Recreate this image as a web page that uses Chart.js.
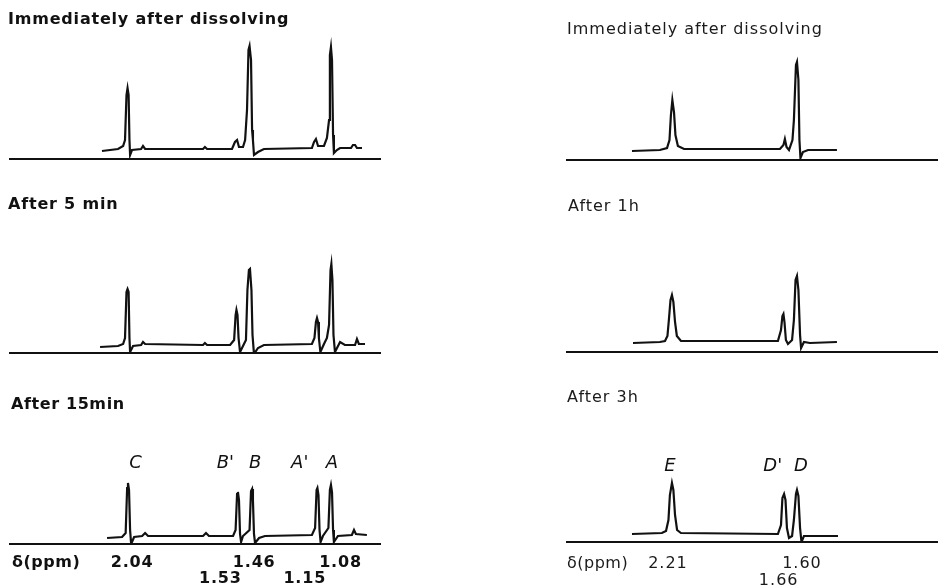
<!DOCTYPE html>
<html>
<head>
<meta charset="utf-8">
<script src="https://cdn.jsdelivr.net/npm/chart.js@4.4.1/dist/chart.umd.min.js"></script>
<style>
  html, body { margin: 0; padding: 0; background: #fff; }
  #wrap { position: relative; width: 938px; height: 587px; overflow: hidden; background: #fff; }
  #wrap canvas { position: absolute; left: 0; top: 0; }
</style>
</head>
<body>
<div id="wrap">
  <canvas id="p1" width="938" height="587"></canvas>
  <canvas id="p2" width="938" height="587"></canvas>
  <canvas id="p3" width="938" height="587"></canvas>
  <canvas id="p4" width="938" height="587"></canvas>
  <canvas id="p5" width="938" height="587"></canvas>
  <canvas id="p6" width="938" height="587"></canvas>
</div>
<script>
// titres des spectres
const titlesLeft = ["Immediately after dissolving", "After 5 min", "After 15min"];
const titlesRight = ["Immediately after dissolving", "After 1h", "After 3h"];

// attribution des pics (delta en ppm)
const leftPeakNames = ["C", "B'", "B", "A'", "A"];
const leftPeakShifts = [2.04, 1.53, 1.46, 1.15, 1.08];
const rightPeakNames = ["E", "D'", "D"];
const rightPeakShifts = [2.21, 1.66, 1.60];

// valeurs sous l'axe
const leftTickValues = [2.04, 1.46, 1.08, 1.53, 1.15];
const rightTickValues = [2.21, 1.60, 1.66];

// spectres : deplacement (ppm) et intensite
const p1Shift = [2.161,2.085,2.061,2.052,2.045,2.040,2.035,2.031,2.028,2.019,1.976,1.967,1.957,1.683,1.674,1.664,1.546,1.532,1.522,1.513,1.494,1.484,1.475,1.468,1.463,1.456,1.451,1.447,1.442,1.423,1.395,1.168,1.158,1.149,1.139,1.111,1.097,1.087,1.083,1.078,1.073,1.068,1.064,1.050,1.035,0.983,0.974,0.964,0.955,0.931];
const p1Int = [1,3,6,12,57,64,57,12,-3,2,3,6,3,3,5,3,3,10,12,5,5,12,42,102,106,92,22,12,-3,0,3,4,10,13,6,6,14,32,97,105,92,17,-1,2,4,4,7,7,4,4];

const p2Shift = [2.170,2.085,2.061,2.052,2.045,2.040,2.035,2.031,2.028,2.014,1.976,1.967,1.957,1.683,1.674,1.664,1.555,1.536,1.529,1.525,1.520,1.515,1.508,1.494,1.480,1.473,1.466,1.461,1.454,1.449,1.442,1.423,1.395,1.168,1.156,1.149,1.144,1.139,1.135,1.128,1.111,1.097,1.087,1.080,1.076,1.071,1.066,1.059,1.035,1.012,0.964,0.955,0.946,0.917];
const p2Int = [0,1,3,9,55,58,55,9,-5,1,2,5,3,2,4,2,2,7,32,37,32,9,-5,1,7,57,77,78,57,12,-7,-1,2,3,9,25,29,25,9,-5,3,9,22,77,83,67,12,-5,5,2,2,8,3,3];

const p3Shift = [2.137,2.066,2.049,2.042,2.038,2.033,2.028,2.023,2.009,1.971,1.957,1.943,1.683,1.669,1.655,1.541,1.529,1.522,1.518,1.513,1.508,1.503,1.494,1.463,1.456,1.451,1.447,1.442,1.437,1.418,1.390,1.168,1.153,1.146,1.142,1.137,1.132,1.127,1.116,1.090,1.083,1.078,1.073,1.068,1.064,1.045,0.979,0.969,0.960,0.908];
const p3Int = [0,1,5,50,55,48,8,-6,1,2,5,2,2,5,2,2,8,44,46,38,4,-4,2,8,47,49,38,4,-5,0,2,3,10,48,50,43,8,-4,2,10,48,53,46,8,-4,2,3,8,4,3];

const p4Shift = [2.405,2.269,2.234,2.222,2.215,2.208,2.200,2.193,2.181,2.151,1.683,1.666,1.659,1.651,1.639,1.622,1.615,1.605,1.600,1.593,1.588,1.583,1.571,1.546,1.405];
const p4Int = [0,1,3,11,36,51,39,16,5,2,2,6,12,4,1,11,31,86,89,71,11,-7,-1,1,1];

const p5Shift = [2.400,2.269,2.244,2.232,2.225,2.217,2.210,2.203,2.195,2.186,2.166,1.693,1.678,1.671,1.666,1.661,1.654,1.644,1.624,1.615,1.607,1.600,1.593,1.585,1.580,1.566,1.537,1.405];
const p5Int = [0,1,2,7,23,43,48,41,21,7,2,2,13,27,29,21,3,-1,3,23,63,67,53,8,-5,1,0,1];

const p6Shift = [2.405,2.259,2.239,2.227,2.220,2.210,2.203,2.195,2.185,2.166,1.693,1.678,1.671,1.663,1.656,1.649,1.639,1.624,1.615,1.605,1.600,1.593,1.585,1.578,1.566,1.400];
const p6Int = [0,1,3,14,39,51,44,19,4,1,0,9,36,40,34,6,-4,-2,14,40,44,38,6,-8,-2,-2];

const INK = "#111";

// textes dessines a partir de l'echelle x du graphique
const panelText = {
    id: "panelText",
    afterDraw(chart, args, opts) {
        const ctx = chart.ctx;
        const xs = chart.scales.x;
        ctx.save();
        ctx.textBaseline = "alphabetic";
        (opts.items || []).forEach(t => {
            ctx.fillStyle = t.color || INK;
            ctx.font = t.font;
            ctx.letterSpacing = (t.spacing || 0) + "px";
            ctx.textAlign = t.align || "left";
            const px = t.value !== undefined ? xs.getPixelForValue(t.value) + (t.dx || 0) : t.left;
            ctx.fillText(t.text, px, t.y);
        });
        ctx.restore();
    }
};

function gerarPainel(id, shift, inten, cfg) {
    const ctx = document.getElementById(id).getContext("2d");
    return new Chart(ctx, {
        type: "line",
        data: {
            datasets: [{
                data: shift.map((s, i) => ({ x: s, y: inten[i] })),
                borderColor: INK,
                borderWidth: 2.2,
                pointRadius: 0,
                tension: 0,
                fill: false
            }]
        },
        options: {
            responsive: false,
            animation: false,
            events: [],
            layout: { padding: cfg.padding },
            plugins: {
                legend: { display: false },
                tooltip: { enabled: false },
                panelText: { items: cfg.items }
            },
            scales: {
                x: {
                    type: "linear",
                    reverse: true,
                    min: cfg.xMin,
                    max: cfg.xMax,
                    grid: { display: false, drawTicks: false },
                    ticks: { display: false },
                    border: { display: true, color: INK, width: 2 }
                },
                y: { display: false, min: cfg.yMin, max: 125 }
            }
        },
        plugins: [panelText]
    });
}

const boldTitle = "bold 16px 'DejaVu Sans'";
const thinTitle = "16px 'DejaVu Sans'";
const tickFont = "bold 16px 'DejaVu Sans'";
const letterFont = "italic 18px 'DejaVu Sans'";
const rightTickFont = "16px 'DejaVu Sans'";

// colonne de gauche : 0.846 - 2.596 ppm
const L = { xMin: 0.846, xMax: 2.596 };
gerarPainel("p1", p1Shift, p1Int, Object.assign({}, L, {
    yMin: -7, padding: { left: 10, right: 558, top: 27, bottom: 428 },
    items: [{ text: titlesLeft[0], left: 8, y: 24, font: boldTitle, spacing: 0.8 }]
}));
gerarPainel("p2", p2Shift, p2Int, Object.assign({}, L, {
    yMin: -6, padding: { left: 10, right: 558, top: 222, bottom: 234 },
    items: [{ text: titlesLeft[1], left: 8, y: 209, font: boldTitle, spacing: 0.8 }]
}));

const p3Items = [{ text: titlesLeft[2], left: 11, y: 409, font: boldTitle, spacing: 0.6 },
                 { text: "δ(ppm)", left: 12, y: 567, font: tickFont, spacing: 0.5 }];
const letterDxL = [8, -10, 5, -16, 1.5];
leftPeakNames.forEach((n, i) => p3Items.push({ text: n, value: leftPeakShifts[i], dx: letterDxL[i], y: 468, font: letterFont, align: "center" }));
const tickDxL = [4.5, 4, 10, -15, -11];
const tickRowL = [567, 567, 567, 583, 583];
leftTickValues.forEach((v, i) => p3Items.push({ text: v.toFixed(2), value: v, dx: tickDxL[i], y: tickRowL[i], font: tickFont, spacing: 0.8, align: "center" }));
gerarPainel("p3", p3Shift, p3Int, Object.assign({}, L, {
    yMin: -6, padding: { left: 10, right: 558, top: 413, bottom: 43 },
    items: p3Items
}));

// colonne de droite : 0.912 - 2.722 ppm
const R = { xMin: 0.912, xMax: 2.722 };
gerarPainel("p4", p4Shift, p4Int, Object.assign({}, R, {
    yMin: -9, padding: { left: 567, right: 0, top: 26, bottom: 427 },
    items: [{ text: titlesRight[0], left: 567, y: 34, font: thinTitle, spacing: 1, color: "#1a1a1a" }]
}));
gerarPainel("p5", p5Shift, p5Int, Object.assign({}, R, {
    yMin: -9, padding: { left: 567, right: 0, top: 218, bottom: 235 },
    items: [{ text: titlesRight[1], left: 568, y: 211, font: thinTitle, spacing: 1, color: "#1a1a1a" }]
}));

const p6Items = [{ text: titlesRight[2], left: 567, y: 402, font: thinTitle, spacing: 1, color: "#1a1a1a" },
                 { text: "δ(ppm)", left: 567, y: 568, font: rightTickFont, spacing: 0.5, color: "#1a1a1a" }];
const letterDxR = [-2, -12, 4];
rightPeakNames.forEach((n, i) => p6Items.push({ text: n, value: rightPeakShifts[i], dx: letterDxR[i], y: 471, font: letterFont, align: "center" }));
const tickDxR = [-4, 5, -6];
const tickRowR = [568, 568, 585];
rightTickValues.forEach((v, i) => p6Items.push({ text: v.toFixed(2), value: v, dx: tickDxR[i], y: tickRowR[i], font: rightTickFont, spacing: 1, align: "center", color: "#1a1a1a" }));
gerarPainel("p6", p6Shift, p6Int, Object.assign({}, R, {
    yMin: -8, padding: { left: 567, right: 0, top: 409, bottom: 45 },
    items: p6Items
}));
</script>
</body>
</html>
